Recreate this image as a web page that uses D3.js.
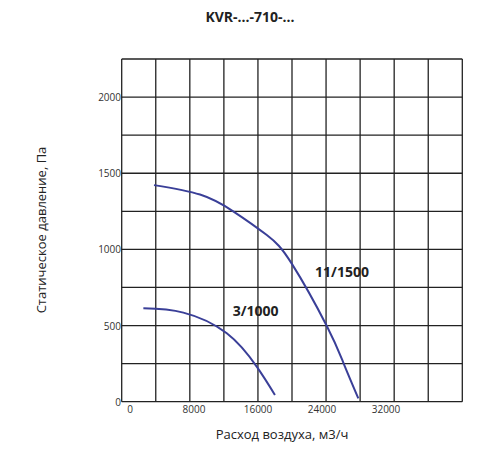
<!DOCTYPE html><html><head><meta charset="utf-8"><script src="https://d3js.org/d3.v7.min.js"></script>
<style>body{margin:0;background:#fff}text{font-family:"Open Sans",sans-serif}</style></head><body><svg id="c" width="500" height="450"></svg>
<script>
const xTicks=[0,8000,16000,24000,32000];
const yTicks=[0,500,1000,1500,2000];
const s11x=[3000,8750,12900,17100,20200,24600,26700,28540];
const s11y=[1422,1360,1250,1094,908,497,252,22];
const s3x=[1670,6670,12100,15840,18120];
const s3y=[613,585,449,230,44];
const svg=d3.select("#c");
const L=121.7,R=462.3,T=59,B=401.7;
const y=d3.scaleLinear([0,2250],[B,T]);
const x=d3.scaleLinear([0,32000],[130,386]);
const gx=d3.scaleLinear([0,10],[L,R]);
const g=svg.append("g").attr("stroke","#222").attr("stroke-width",1.3);
d3.range(11).forEach(i=>g.append("line").attr("x1",gx(i)).attr("x2",gx(i)).attr("y1",T).attr("y2",B));
d3.range(0,2251,250).forEach(v=>g.append("line").attr("x1",L).attr("x2",R).attr("y1",y(v)).attr("y2",y(v)));
yTicks.forEach(v=>svg.append("text").attr("x",121).attr("y",y(v)+4).attr("text-anchor","end").attr("font-size",10).attr("fill","#333").text(v));
xTicks.forEach(v=>svg.append("text").attr("x",x(v)).attr("y",413).attr("text-anchor","middle").attr("font-size",10).attr("fill","#333").text(v));
const line=d3.line().x(d=>x(d[0])).y(d=>y(d[1])).curve(d3.curveNatural);
[[s11x,s11y],[s3x,s3y]].forEach(([a,b])=>svg.append("path").attr("d",line(a.map((v,i)=>[v,b[i]]))).attr("fill","none").attr("stroke","#3a3f98").attr("stroke-width",2));
svg.append("text").attr("x",x(26500)).attr("y",y(820)).attr("text-anchor","middle").attr("font-size",14).attr("font-weight","bold").attr("fill","#222").text("11/1500");
svg.append("text").attr("x",x(15700)).attr("y",y(560)).attr("text-anchor","middle").attr("font-size",14).attr("font-weight","bold").attr("fill","#222").text("3/1000");
svg.append("text").attr("x",250).attr("y",22).attr("text-anchor","middle").attr("font-size",14).attr("font-weight","bold").attr("fill","#222").text("KVR-...-710-...");
svg.append("text").attr("x",282).attr("y",439).attr("text-anchor","middle").attr("font-size",13).attr("fill","#222").text("Расход воздуха, м3/ч");
svg.append("text").attr("transform","translate(46,230) rotate(-90)").attr("text-anchor","middle").attr("font-size",13).attr("fill","#222").text("Статическое давление, Па");
</script></body></html>
